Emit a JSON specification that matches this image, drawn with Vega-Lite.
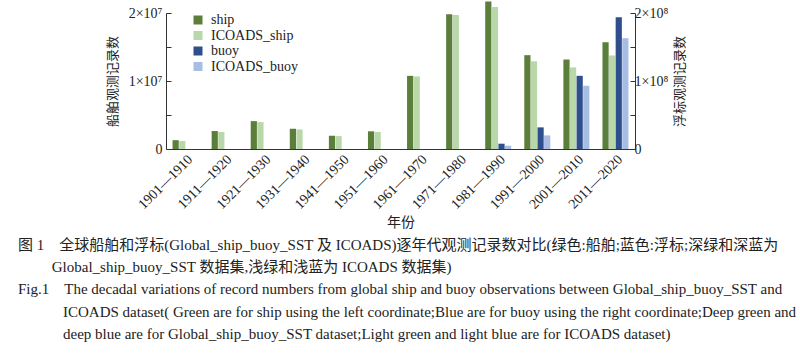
{
  "$schema": "https://vega.github.io/schema/vega-lite/v6.json",
  "autosize": {"type": "none"},
  "width": 469,
  "height": 136,
  "padding": {"left": 166, "top": 13, "right": 165, "bottom": 208},
  "background": "white",
  "config": {
    "view": {"stroke": null},
    "font": "Liberation Serif",
    "axis": {"grid": false, "domainColor": "#333", "tickColor": "#333", "labelColor": "#222", "titleColor": "#222"}
  },
  "title": {
    "text": [
      "图 1　全球船舶和浮标(Global_ship_buoy_SST 及 ICOADS)逐年代观测记录数对比(绿色:船舶;蓝色:浮标;深绿和深蓝为",
      "​　　  Global_ship_buoy_SST 数据集,浅绿和浅蓝为 ICOADS 数据集)"
    ],
    "subtitle": [
      "Fig.1　The decadal variations of record numbers from global ship and buoy observations between Global_ship_buoy_SST and",
      "​　　　ICOADS dataset( Green are for ship using the left coordinate;Blue are for buoy using the right coordinate;Deep green and",
      "​　　　deep blue are for Global_ship_buoy_SST dataset;Light green and light blue are for ICOADS dataset)"
    ],
    "orient": "bottom",
    "anchor": "start",
    "frame": "group",
    "dx": -148,
    "offset": 9,
    "font": "Liberation Serif, Noto Sans CJK SC",
    "fontSize": 15,
    "fontWeight": "normal",
    "lineHeight": 22,
    "color": "#222",
    "subtitleFont": "Liberation Serif, Noto Sans CJK SC",
    "subtitleFontSize": 15,
    "subtitleLineHeight": 22.5,
    "subtitleColor": "#222",
    "subtitlePadding": 7
  },
  "datasets": {
    "ship": [
      {"decade": "1901—1910", "series": "ship", "count": 1300000},
      {"decade": "1901—1910", "series": "ICOADS_ship", "count": 1170000},
      {"decade": "1911—1920", "series": "ship", "count": 2640000},
      {"decade": "1911—1920", "series": "ICOADS_ship", "count": 2500000},
      {"decade": "1921—1930", "series": "ship", "count": 4100000},
      {"decade": "1921—1930", "series": "ICOADS_ship", "count": 3960000},
      {"decade": "1931—1940", "series": "ship", "count": 2980000},
      {"decade": "1931—1940", "series": "ICOADS_ship", "count": 2880000},
      {"decade": "1941—1950", "series": "ship", "count": 1950000},
      {"decade": "1941—1950", "series": "ICOADS_ship", "count": 1900000},
      {"decade": "1951—1960", "series": "ship", "count": 2600000},
      {"decade": "1951—1960", "series": "ICOADS_ship", "count": 2500000},
      {"decade": "1961—1970", "series": "ship", "count": 10760000},
      {"decade": "1961—1970", "series": "ICOADS_ship", "count": 10670000},
      {"decade": "1971—1980", "series": "ship", "count": 19800000},
      {"decade": "1971—1980", "series": "ICOADS_ship", "count": 19700000},
      {"decade": "1981—1990", "series": "ship", "count": 21700000},
      {"decade": "1981—1990", "series": "ICOADS_ship", "count": 20900000},
      {"decade": "1991—2000", "series": "ship", "count": 13800000},
      {"decade": "1991—2000", "series": "ICOADS_ship", "count": 12900000},
      {"decade": "2001—2010", "series": "ship", "count": 13160000},
      {"decade": "2001—2010", "series": "ICOADS_ship", "count": 12000000},
      {"decade": "2011—2020", "series": "ship", "count": 15700000},
      {"decade": "2011—2020", "series": "ICOADS_ship", "count": 13750000}
    ],
    "buoy": [
      {"decade": "1981—1990", "series": "buoy", "count": 7800000},
      {"decade": "1981—1990", "series": "ICOADS_buoy", "count": 4800000},
      {"decade": "1991—2000", "series": "buoy", "count": 31800000},
      {"decade": "1991—2000", "series": "ICOADS_buoy", "count": 20000000},
      {"decade": "2001—2010", "series": "buoy", "count": 107600000},
      {"decade": "2001—2010", "series": "ICOADS_buoy", "count": 93000000},
      {"decade": "2011—2020", "series": "buoy", "count": 193700000},
      {"decade": "2011—2020", "series": "ICOADS_buoy", "count": 163000000}
    ]
  },
  "encoding": {
    "x": {
      "field": "decade",
      "type": "nominal",
      "scale": {
        "domain": ["1901—1910", "1911—1920", "1921—1930", "1931—1940", "1941—1950", "1951—1960", "1961—1970", "1971—1980", "1981—1990", "1991—2000", "2001—2010", "2011—2020"],
        "paddingInner": 0.335,
        "paddingOuter": 0.1675
      },
      "axis": {
        "title": "年份",
        "titleFont": "Noto Sans CJK SC",
        "titleFontSize": 14,
        "titleFontWeight": "normal",
        "titlePadding": 4,
        "labelAngle": -45,
        "labelFont": "Liberation Serif",
        "labelFontSize": 14,
        "labelPadding": 3,
        "ticks": false
      }
    },
    "xOffset": {
      "field": "series",
      "type": "nominal",
      "scale": {"domain": ["ship", "ICOADS_ship", "buoy", "ICOADS_buoy"], "paddingInner": 0.06}
    },
    "color": {
      "field": "series",
      "type": "nominal",
      "scale": {
        "domain": ["ship", "ICOADS_ship", "buoy", "ICOADS_buoy"],
        "range": ["#5b7f3b", "#b9d8a9", "#2e4f8c", "#a8bde3"]
      },
      "legend": {
        "title": null,
        "orient": "none",
        "legendX": 25,
        "legendY": 0,
        "symbolType": "square",
        "symbolSize": 81,
        "symbolStrokeWidth": 0,
        "labelFont": "Liberation Serif",
        "labelFontSize": 14,
        "labelColor": "#222",
        "labelOffset": 6,
        "rowPadding": 1.5
      }
    }
  },
  "layer": [
    {
      "data": {"name": "ship"},
      "mark": {"type": "bar"},
      "encoding": {
        "y": {
          "field": "count",
          "type": "quantitative",
          "scale": {"domain": [0, 20000000], "nice": false},
          "axis": {
            "orient": "left",
            "title": "船舶观测记录数",
            "titleFont": "Noto Sans CJK SC",
            "titleFontSize": 13,
            "titleFontWeight": "normal",
            "titlePadding": 9,
            "values": [0, 5000000, 10000000, 15000000, 20000000],
            "labelExpr": "datum.value == 0 ? '0' : datum.value == 10000000 ? '1×10⁷' : datum.value == 20000000 ? '2×10⁷' : ''",
            "labelFont": "Liberation Serif",
            "labelFontSize": 14,
            "tickSize": -5,
            "labelPadding": 9
          }
        }
      }
    },
    {
      "data": {"name": "buoy"},
      "mark": {"type": "bar"},
      "encoding": {
        "y": {
          "field": "count",
          "type": "quantitative",
          "scale": {"domain": [0, 200000000], "nice": false},
          "axis": {
            "orient": "right",
            "title": "浮标观测记录数",
            "titleAngle": -90,
            "titleFont": "Noto Sans CJK SC",
            "titleFontSize": 13,
            "titleFontWeight": "normal",
            "titlePadding": 19,
            "values": [0, 50000000, 100000000, 150000000, 200000000],
            "labelExpr": "datum.value == 0 ? '0' : datum.value == 100000000 ? '1×10⁸' : datum.value == 200000000 ? '2×10⁸' : ''",
            "labelFont": "Liberation Serif",
            "labelFontSize": 14,
            "tickSize": -5,
            "labelPadding": 4
          }
        }
      }
    }
  ],
  "resolve": {"scale": {"y": "independent"}, "axis": {"y": "independent"}}
}
